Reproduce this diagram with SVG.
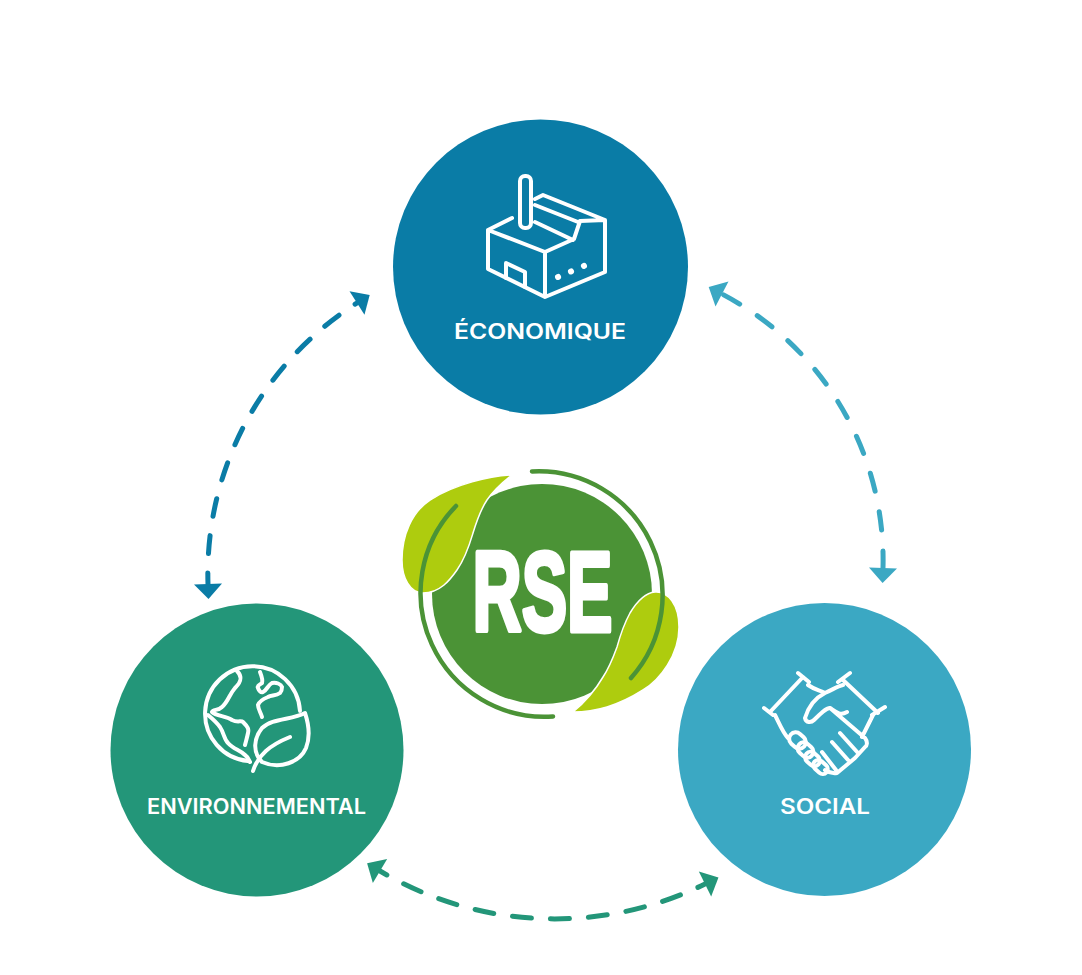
<svg xmlns="http://www.w3.org/2000/svg" width="1082" height="975" viewBox="0 0 1082 975">
<style>
.label{font-family:"Inter","Open Sans","Liberation Sans",sans-serif;font-weight:600;font-size:21px;fill:#fff;text-anchor:middle}
.ic{fill:none;stroke:#fff;stroke-width:4;stroke-linecap:round;stroke-linejoin:round}
.conn{fill:none;stroke-width:5;stroke-linecap:round}
.ring{fill:none;stroke:#4b9336;stroke-width:4.5;stroke-linecap:round}
.leaf{fill:#aecc0e;stroke:#fff;stroke-width:1.5}
</style>
<defs>
<marker id="hB" markerUnits="userSpaceOnUse" markerWidth="32" markerHeight="32" refX="1" refY="16" orient="auto-start-reverse"><path d="M1,2 L1,30 L16,16 Z" fill="#0a7ca6"/></marker>
<marker id="hT" markerUnits="userSpaceOnUse" markerWidth="32" markerHeight="32" refX="1" refY="16" orient="auto-start-reverse"><path d="M1,2 L1,30 L16,16 Z" fill="#3ba8c3"/></marker>
<marker id="hG" markerUnits="userSpaceOnUse" markerWidth="32" markerHeight="32" refX="1" refY="16" orient="auto-start-reverse"><path d="M1,2 L1,30 L16,16 Z" fill="#239679"/></marker>
</defs>
<rect width="1082" height="975" fill="#fff"/>
<g id="connectors">
<path class="conn" d="M208,584 A320,320 0 0 1 357,303" stroke="#0a7ca6" stroke-dasharray="18 19.5" stroke-dashoffset="7" marker-start="url(#hB)" marker-end="url(#hB)"/>
<path class="conn" d="M883,568 A300,300 0 0 0 722,294" stroke="#3ba8c3" stroke-dasharray="18.500 21" stroke-dashoffset="1.500" marker-start="url(#hT)" marker-end="url(#hT)"/>
<path class="conn" d="M380,871 A342,342 0 0 0 705,884" stroke="#239679" stroke-dasharray="19 19" stroke-dashoffset="11" marker-start="url(#hG)" marker-end="url(#hG)"/>
</g>
<g id="node-rse">
<circle cx="542" cy="594" r="110" fill="#4b9336"/>
<path class="leaf" d="M512,475 C490,476 455,484 430,500 C412,512 402,535 402,560 C402,578 410,593 423,593 C440,593 450,580 457,570 C466,557 470,543 473,533 C477,520 481,509 487,500 C494,490 503,482 512,475 Z"/>
<path class="leaf" d="M573,712 C585,712 597,710 607,707 C620,703 632,697 643,690 C660,680 679,655 679,627 C679,605 668,591 655,592 C644,593 636,603 630,613 C624,624 620,636 617,647 C613,658 609,668 603,677 C596,689 585,702 573,712 Z"/>
<path class="ring" d="M532,471.500 A124,124 0 0 1 631,678"/>
<path class="ring" d="M553,716.500 A124,124 0 0 1 456,506"/>
<text x="542.500" y="631" font-family="'Liberation Sans',Arial,sans-serif" font-weight="700" font-size="114" fill="#fff" stroke="#fff" stroke-width="5" stroke-linejoin="round" text-anchor="middle" textLength="140" lengthAdjust="spacingAndGlyphs">RSE</text>
</g>
<g id="node-economique">
<circle cx="540.500" cy="267" r="147.500" fill="#0a7ca6"/>
<rect class="ic" x="520" y="176" width="11" height="52" rx="5"/>
<path class="ic" d="M512,218 L488,230 L488,269 L545,297 L605,272 L605,220 L543,195 L535,199 M488,230 L545,252 L545,297 M545,252 L574,239 L580,221 L605,220 M535,205 L578,222 M535,222 L573,240"/>
<path class="ic" d="M506,278 L506,263 L525,272 L525,287"/>
<path class="ic" stroke-dasharray="0.1 14" style="stroke-width:6" d="M558,277 L586,265"/>
<text class="label" x="540" y="339" textLength="172" lengthAdjust="spacingAndGlyphs">ÉCONOMIQUE</text>
</g>
<g id="node-environnemental">
<circle cx="257" cy="750" r="146.500" fill="#239679"/>
<path class="ic" d="M300,711 A47.500,47.500 0 1 0 248,761"/>
<path class="ic" d="M305,713 C309,725 310,738 306,748 C300,762 280,770 262,762 C252,752 254,738 262,728 C272,718 292,720 305,713 Z"/>
<path class="ic" d="M253,771 C258,755 270,745 290,737"/>
<path class="ic" d="M237,671 C243,677 241,682 235,688 C229,695 228,702 222,707 C218,711 213,709 212,712 C216,716 226,716 232,720 C238,723 241,720 243,722 C248,727 249,729 248,733 C247,738 246,741 245,745 M208,715 C214,720 217,723 220,727 C224,733 224,739 228,743 C233,749 240,750 245,755 C248,757 249,760 250,762"/>
<path class="ic" d="M260,672 C262,677 263,680 262,683 C259,685 257,686 258,688 C259,691 261,693 263,692 C267,690 268,685 272,683 C276,682 281,684 282,687 C282,690 281,692 280,693 C276,696 271,695 268,697 C263,699 259,702 258,705 C258,709 261,713 262,717"/>
<text class="label" x="256.500" y="814" textLength="219" lengthAdjust="spacingAndGlyphs">ENVIRONNEMENTAL</text>
</g>
<g id="node-social">
<circle cx="824.500" cy="749.500" r="146.500" fill="#3ba8c3"/>
<path class="ic" d="M770,712 L803,677 M764,708 L773,715 M798,673 L809,682 M843,680 L878,713 M838,682 L850,673 M872,715 L885,707"/>
<path class="ic" d="M808,685 C815,690 820,690 825,693 C832,690 838,686 843,685 M825,693 C815,698 808,708 805,718 C806,723 811,723 814,720 C820,714 826,708 830,708 C836,712 840,716 847,712 M830,708 L865,738 C868,742 867,746 865,747 L855,758 L843,768 L837,773 C832,774 828,772 825,770 M873,715 L862,737 M775,715 C780,725 783,733 788,738 M832,742 L848,760 M840,733 L858,753 M822,752 L836,770"/>
<rect class="ic" x="788.500" y="734" width="18" height="13" rx="6.500" transform="rotate(42 797.500 740.500)"/>
<rect class="ic" x="797" y="744" width="17" height="12" rx="6" transform="rotate(42 805.500 750)"/>
<rect class="ic" x="804.500" y="753.500" width="16" height="11" rx="5.500" transform="rotate(42 812.500 759)"/>
<rect class="ic" x="812.500" y="762" width="16" height="10" rx="5" transform="rotate(42 820.500 767)"/>
<text class="label" x="825" y="814" textLength="90" lengthAdjust="spacingAndGlyphs">SOCIAL</text>
</g>
</svg>
